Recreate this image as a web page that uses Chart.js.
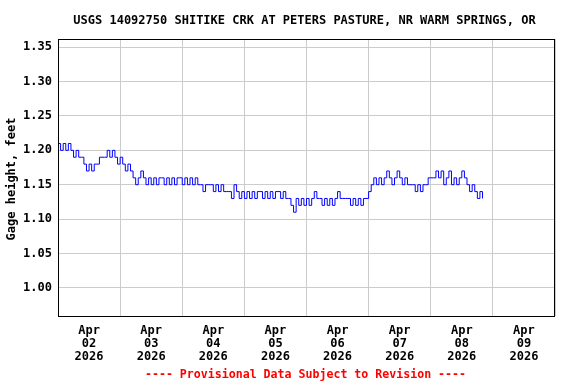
<!DOCTYPE html>
<html>
<head>
<meta charset="utf-8">
<script src="https://cdn.jsdelivr.net/npm/chart.js@4/dist/chart.umd.min.js"></script>
<style>
  html, body { margin: 0; padding: 0; background: #fff; }
  #wrap { width: 576px; height: 384px; }
</style>
</head>
<body>
<div id="wrap"><canvas id="c1" width="576" height="384"></canvas></div>
<script>
// gage height, hourly from Apr 02 00:00
const gageHeight = [
  1.21, 1.20, 1.21, 1.20, 1.21, 1.20, 1.19, 1.20, 1.19, 1.19,
  1.18, 1.17, 1.18, 1.17, 1.18, 1.18, 1.19, 1.19, 1.19, 1.20,
  1.19, 1.20, 1.19, 1.18, 1.19, 1.18, 1.17, 1.18, 1.17, 1.16,
  1.15, 1.16, 1.17, 1.16, 1.15, 1.16, 1.15, 1.16, 1.15, 1.16,
  1.16, 1.15, 1.16, 1.15, 1.16, 1.15, 1.16, 1.16, 1.15, 1.16,
  1.15, 1.16, 1.15, 1.16, 1.15, 1.15, 1.14, 1.15, 1.15, 1.15,
  1.14, 1.15, 1.14, 1.15, 1.14, 1.14, 1.14, 1.13, 1.15, 1.14,
  1.13, 1.14, 1.13, 1.14, 1.13, 1.14, 1.13, 1.14, 1.14, 1.13,
  1.14, 1.13, 1.14, 1.13, 1.14, 1.14, 1.13, 1.14, 1.13, 1.13,
  1.12, 1.11, 1.13, 1.12, 1.13, 1.12, 1.13, 1.12, 1.13, 1.14,
  1.13, 1.13, 1.12, 1.13, 1.12, 1.13, 1.12, 1.13, 1.14, 1.13,
  1.13, 1.13, 1.13, 1.12, 1.13, 1.12, 1.13, 1.12, 1.13, 1.13,
  1.14, 1.15, 1.16, 1.15, 1.16, 1.15, 1.16, 1.17, 1.16, 1.15,
  1.16, 1.17, 1.16, 1.15, 1.16, 1.15, 1.15, 1.15, 1.14, 1.15,
  1.14, 1.15, 1.15, 1.16, 1.16, 1.16, 1.17, 1.16, 1.17, 1.15,
  1.16, 1.17, 1.15, 1.16, 1.15, 1.16, 1.17, 1.16, 1.15, 1.14,
  1.15, 1.14, 1.13, 1.14, 1.13
];
const hourOffsets = gageHeight.map((v, i) => i);

const dayLabels = ['02', '03', '04', '05', '06', '07', '08', '09'];
const monthLabel = 'Apr';
const yearLabel = '2026';
const yTicks = [1.00, 1.05, 1.10, 1.15, 1.20, 1.25, 1.30, 1.35];

const titleText = 'USGS 14092750 SHITIKE CRK AT PETERS PASTURE, NR WARM SPRINGS, OR';
const yTitle = 'Gage height, feet';
const footerText = '---- Provisional Data Subject to Revision ----';

const mono = '"DejaVu Sans Mono", "Liberation Mono", monospace';

const textPlugin = {
  id: 'texts',
  afterDraw(chart) {
    const ctx = chart.ctx;
    const a = chart.chartArea;
    ctx.save();
    // frame
    ctx.strokeStyle = '#000';
    ctx.lineWidth = 1;
    ctx.strokeRect(Math.round(a.left) + 0.5, Math.round(a.top) + 0.5,
      Math.round(a.right - a.left) - 1, Math.round(a.bottom - a.top));
    ctx.fillStyle = '#000';
    ctx.textAlign = 'center';
    ctx.textBaseline = 'middle';
    ctx.font = 'bold 12px ' + mono;
    ctx.fillText(titleText, 304.5, 20.5);
    ctx.save();
    ctx.translate(12, 179);
    ctx.rotate(-Math.PI / 2);
    ctx.fillText(yTitle, 0, 0);
    ctx.restore();
    ctx.fillStyle = '#ff0000';
    ctx.font = 'bold 11.6px ' + mono;
    ctx.fillText(footerText, 305.5, 375);
    ctx.restore();
  }
};

new Chart(document.getElementById('c1'), {
  type: 'line',
  data: {
    datasets: [{
      data: hourOffsets.map((h, i) => ({ x: h, y: gageHeight[i] })),
      borderColor: '#0000ff',
      borderWidth: 1,
      pointRadius: 0,
      stepped: true,
      fill: false
    }]
  },
  options: {
    responsive: false,
    animation: false,
    layout: { padding: { left: 0, top: 39, right: 21, bottom: 0 } },
    plugins: { legend: { display: false }, tooltip: { enabled: false }, title: { display: false } },
    scales: {
      x: {
        type: 'linear',
        min: 0,
        max: 192,
        afterBuildTicks: s => { s.ticks = dayLabels.map((d, i) => ({ value: 12 + 24 * i })); },
        afterFit: s => { s.height = 68; },
        grid: { color: '#cccccc', offset: true, drawTicks: false },
        border: { display: false },
        ticks: {
          color: '#000',
          padding: 8,
          maxRotation: 0,
          autoSkip: false,
          font: { family: mono, size: 12, weight: 'bold', lineHeight: 1.1 },
          callback: (v, i) => [monthLabel, dayLabels[i], yearLabel]
        }
      },
      y: {
        min: 0.959,
        max: 1.362,
        afterBuildTicks: s => { s.ticks = yTicks.map(v => ({ value: v })); },
        afterFit: s => { s.width = 58; },
        grid: { color: '#cccccc', drawTicks: false },
        border: { display: false },
        ticks: {
          color: '#000',
          padding: 6,
          font: { family: mono, size: 12, weight: 'bold' },
          callback: v => v.toFixed(2)
        }
      }
    }
  },
  plugins: [textPlugin]
});
</script>
</body>
</html>
